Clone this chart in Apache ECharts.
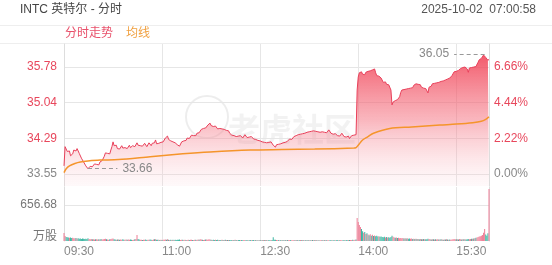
<!DOCTYPE html>
<html><head><meta charset="utf-8">
<script src="https://cdn.jsdelivr.net/npm/echarts@6/dist/echarts.min.js"></script>
<style>html,body{margin:0;padding:0;background:#fff}#c{width:552px;height:265px}</style>
</head><body><div id="c"></div>
<script>
const preClose = 33.55;
const priceLabels = [33.55, 34.29, 35.04, 35.78];
const pctLabels = [0, 2.22, 4.44, 6.66];
const volumeTick = 656.68;
const volumeMax = 985.02;
const priceMin = 33.30, priceMax = 36.26;

// one value per minute, 09:30 .. 16:00
const price = [
33.72,34.12,34.08,34.02,33.98,34.03,33.93,33.89,33.97,34.05,
34.09,34.03,34.08,34.06,33.98,33.95,33.88,33.84,33.80,33.76,
33.72,33.70,33.66,33.68,33.71,33.74,33.70,33.73,33.76,33.72,
33.75,33.77,33.74,33.80,33.78,33.83,33.86,33.92,33.99,33.95,
33.98,34.02,33.97,34.05,34.12,34.22,34.14,34.10,34.15,34.08,
34.12,34.07,34.11,34.14,34.09,34.06,34.10,34.13,34.08,34.12,
34.15,34.10,34.08,34.14,34.18,34.12,34.16,34.20,34.15,34.11,
34.14,34.18,34.13,34.17,34.19,34.15,34.12,34.16,34.20,34.18,
34.14,34.19,34.23,34.20,34.26,34.18,34.15,34.19,34.16,34.21,
34.18,34.22,34.25,34.30,34.28,34.34,34.27,34.30,34.24,34.26,
34.22,34.25,34.20,34.18,34.16,34.14,34.13,34.17,34.22,34.19,
34.24,34.28,34.25,34.30,34.32,34.29,34.33,34.36,34.32,34.35,
34.38,34.35,34.40,34.43,34.41,34.45,34.48,34.46,34.50,34.53,
34.51,34.55,34.57,34.59,34.61,34.56,34.58,34.54,34.51,34.55,
34.52,34.49,34.53,34.50,34.47,34.49,34.45,34.48,34.44,34.46,
34.42,34.45,34.40,34.38,34.36,34.39,34.35,34.37,34.33,34.36,
34.34,34.31,34.35,34.32,34.30,34.34,34.37,34.33,34.31,34.34,
34.32,34.30,34.33,34.31,34.28,34.30,34.27,34.29,34.25,34.27,
34.24,34.26,34.22,34.25,34.21,34.23,34.20,34.24,34.21,34.19,
34.22,34.18,34.15,34.13,34.11,34.16,34.19,34.17,34.21,34.18,
34.22,34.20,34.24,34.21,34.25,34.23,34.26,34.28,34.24,34.27,
34.30,34.33,34.31,34.35,34.33,34.37,34.34,34.38,34.36,34.39,
34.37,34.40,34.38,34.42,34.40,34.43,34.41,34.44,34.42,34.45,
34.42,34.44,34.41,34.43,34.40,34.42,34.45,34.43,34.46,34.42,
34.44,34.41,34.45,34.47,34.43,34.40,34.42,34.38,34.36,34.39,
34.37,34.35,34.38,34.34,34.37,34.40,34.36,34.33,34.36,34.32,
34.30,34.34,34.29,34.32,34.35,34.31,34.36,34.38,34.37,35.30,
35.57,35.66,35.70,35.68,35.63,35.66,35.62,35.67,35.64,35.69,
35.65,35.70,35.67,35.72,35.68,35.74,35.66,35.60,35.57,35.59,
35.56,35.55,35.52,35.46,35.44,35.47,35.42,35.45,35.41,35.40,
35.30,34.99,35.05,35.09,35.08,35.11,35.10,35.12,35.16,35.25,
35.30,35.33,35.31,35.35,35.32,35.36,35.33,35.30,35.34,35.38,
35.35,35.40,35.37,35.43,35.39,35.42,35.38,35.41,35.36,35.39,
35.34,35.37,35.33,35.30,35.24,35.36,35.40,35.38,35.43,35.41,
35.44,35.42,35.45,35.47,35.46,35.49,35.48,35.50,35.49,35.52,
35.51,35.54,35.53,35.56,35.55,35.57,35.60,35.64,35.68,35.70,
35.69,35.72,35.71,35.73,35.75,35.74,35.77,35.75,35.78,35.76,
35.74,35.67,35.76,35.78,35.77,35.79,35.78,35.80,35.79,35.81,
35.88,35.93,35.95,35.96,36.00,36.03,36.05,35.98,35.95,35.92,35.94
];

// average price line: [minute, value]
const avgPoints = [
[0,33.58],[2,33.66],[5,33.72],[10,33.77],[15,33.80],[22,33.82],[33,33.84],[50,33.85],
[79,33.91],[109,33.97],[134,34.01],[171,34.05],[200,34.06],[230,34.07],[266,34.09],
[268,34.10],[270,34.15],[274,34.26],[279,34.33],[284,34.40],[299,34.50],[319,34.53],
[345,34.57],[360,34.59],[375,34.62],[383,34.65],[387,34.69],[390,34.74]
];

// volume per minute (万股)
const volume = [
146,92,75,68,62,58,66,55,60,52,
48,55,44,50,42,46,38,45,40,36,
42,38,48,35,32,38,30,34,28,33,
30,26,32,28,35,27,30,38,42,33,
28,25,30,36,40,45,32,27,24,29,
26,22,28,24,30,21,25,27,23,26,
22,28,25,20,24,30,35,108,38,26,
22,25,20,24,21,26,19,23,22,28,
24,20,26,30,34,25,21,23,19,22,
20,24,22,27,25,30,23,20,22,18,
21,19,23,20,25,22,26,19,21,24,
18,22,20,17,23,19,21,24,18,20,
22,25,19,27,24,30,28,22,20,24,
26,29,24,30,27,22,20,23,18,21,
19,22,17,20,18,21,16,19,22,18,
17,20,18,15,19,16,18,21,17,15,
16,19,14,17,15,18,16,14,17,15,
14,16,13,15,17,14,16,13,15,14,
16,13,15,18,14,16,13,15,17,14,
16,20,68,24,22,18,15,17,14,16,
15,17,14,16,13,18,15,14,16,13,
15,17,14,16,18,15,13,16,14,17,
15,13,16,14,17,15,13,14,16,12,
14,16,13,15,12,14,16,13,15,12,
14,13,15,12,14,16,13,15,14,12,
13,15,14,12,16,13,15,17,14,16,
15,18,16,20,17,22,19,24,26,420,
345,290,255,220,180,150,165,128,140,118,
105,125,98,112,90,102,85,95,80,88,
76,84,72,70,78,66,74,62,68,60,
72,95,78,64,58,62,55,60,52,56,
50,54,46,52,44,48,42,46,40,44,
38,42,36,40,35,38,33,37,34,31,
35,32,30,34,40,36,31,29,33,30,
28,32,27,30,26,29,31,27,25,28,
26,30,27,24,28,25,29,32,36,34,
30,33,29,35,31,28,32,30,34,29,
31,36,33,38,42,40,46,52,58,64,
72,80,88,96,110,150,220,120,95,140,950
];

const FONT = 'Arial, "Liberation Sans", "Noto Sans CJK SC", sans-serif';
const RED = '#e8475c', GREY = '#888', UP = '#ee7d95', DOWN = '#3db6a2';
const fmtTime = m => { const t = 570 + m; const h = Math.floor(t / 60), mm = t % 60; return (h < 10 ? '0' : '') + h + ':' + (mm < 10 ? '0' : '') + mm; };

const priceData = price.map((p, i) => [i, p]);
const volData = volume.map((v, i) => ({
  value: [i, v],
  itemStyle: { color: (i === 0 || price[i] >= price[i - 1]) ? UP : DOWN }
}));
let hiI = 0, loI = 0;
price.forEach((p, i) => { if (p > price[hiI]) hiI = i; if (p < price[loI]) loI = i; });
const pct = v => (v / preClose - 1) * 100;

const chart = echarts.init(document.getElementById('c'), null, { renderer: 'canvas' });
chart.setOption({
  animation: false,
  textStyle: { fontFamily: FONT },
  title: [
    { text: 'INTC 英特尔 - 分时', left: 20, top: 4, padding: 0, textStyle: { fontSize: 12, fontWeight: 'normal', color: '#444', fontFamily: FONT } },
    { text: '2025-10-02  07:00:58', right: 16, top: 4, padding: 0, textStyle: { fontSize: 12, fontWeight: 'normal', color: '#555', fontFamily: FONT } }
  ],
  legend: {
    left: 59, top: 28, padding: 0, itemWidth: 0, itemHeight: 0, itemGap: 7,
    textStyle: { fontSize: 12, fontFamily: FONT },
    data: [
      { name: '分时走势', textStyle: { color: '#e8506a' } },
      { name: '均线', textStyle: { color: '#f0a040' } }
    ]
  },
  graphic: [
    { type: 'line', shape: { x1: 0, y1: 25.5, x2: 552, y2: 25.5 }, style: { stroke: '#eeeeee', lineWidth: 1 }, silent: true },
    { type: 'line', shape: { x1: 0, y1: 43.5, x2: 552, y2: 43.5 }, style: { stroke: '#eeeeee', lineWidth: 1 }, silent: true },
    { type: 'circle', shape: { cx: 207, cy: 117, r: 21 }, style: { fill: 'none', stroke: 'rgba(0,0,0,0.07)', lineWidth: 2 }, silent: true, z: 0 },
    { type: 'text', left: 228, top: 113, style: { text: '老虎社区', font: 'bold 32px "Noto Sans CJK SC"', fill: 'rgba(0,0,0,0.05)' }, silent: true, z: 0 }
  ],
  grid: [
    { left: 64, right: 63, top: 44, height: 142 },
    { left: 64, right: 63, top: 187, height: 54 }
  ],
  xAxis: [
    { type: 'value', gridIndex: 0, min: 0, max: 390, interval: 90,
      axisLine: { show: false }, axisTick: { show: false }, axisLabel: { show: false },
      splitLine: { show: true, lineStyle: { color: '#e6e6e6' } } },
    { type: 'value', gridIndex: 1, min: 0, max: 390, interval: 90,
      axisLine: { show: false }, axisTick: { show: false },
      axisLabel: { show: true, showMaxLabel: false, align: 'left', margin: 5, fontSize: 12, color: GREY, fontFamily: FONT, formatter: v => fmtTime(v) },
      splitLine: { show: true, lineStyle: { color: '#e6e6e6' } } }
  ],
  yAxis: [
    { type: 'value', gridIndex: 0, min: priceMin, max: priceMax, position: 'left',
      axisLine: { show: true, lineStyle: { color: '#dddddd' } },
      axisTick: { show: false, customValues: priceLabels },
      axisLabel: { customValues: priceLabels, fontSize: 12, margin: 7, fontFamily: FONT,
        formatter: v => v.toFixed(2), color: v => (Math.abs(v - preClose) < 0.001 ? GREY : RED) },
      splitLine: { show: true, lineStyle: { color: '#e6e6e6' } } },
    { type: 'value', gridIndex: 0, min: pct(priceMin), max: pct(priceMax), position: 'right',
      axisLine: { show: true, lineStyle: { color: '#dddddd' } },
      axisTick: { show: false, customValues: pctLabels },
      axisLabel: { customValues: pctLabels, fontSize: 12, margin: 5, fontFamily: FONT,
        formatter: v => v.toFixed(2) + '%', color: v => (Math.abs(v) < 0.001 ? GREY : RED) },
      splitLine: { show: false } },
    { type: 'value', gridIndex: 1, min: 0, max: volumeMax, position: 'left',
      axisLine: { show: true, lineStyle: { color: '#dddddd' } },
      axisTick: { show: false, customValues: [volumeTick] },
      axisLabel: { customValues: [70, volumeTick], fontSize: 12, margin: 7, color: '#777', fontFamily: FONT,
        formatter: v => (v < 100 ? '万股' : v.toFixed(2)) },
      splitLine: { show: true, lineStyle: { color: '#e6e6e6' } } },
    { type: 'value', gridIndex: 1, min: 0, max: volumeMax, position: 'right',
      axisLine: { show: true, lineStyle: { color: '#dddddd' } },
      axisTick: { show: false }, axisLabel: { show: false }, splitLine: { show: false } }
  ],
  series: [
    { name: '分时走势', type: 'line', xAxisIndex: 0, yAxisIndex: 0, data: priceData,
      showSymbol: false, symbol: 'none', z: 3,
      lineStyle: { color: '#e8405a', width: 1 },
      itemStyle: { color: '#e8506a' },
      areaStyle: { opacity: 1, color: new echarts.graphic.LinearGradient(0, 0, 0, 1, [
        { offset: 0, color: 'rgba(240,60,80,0.85)' },
        { offset: 0.5, color: 'rgba(244,110,125,0.5)' },
        { offset: 1, color: 'rgba(250,205,212,0.12)' }
      ]) },
      markLine: {
        silent: true, symbol: ['none', 'none'], animation: false,
        lineStyle: { type: [4, 3], color: '#999', width: 1.2 },
        label: { show: true, position: 'end', color: GREY, fontSize: 12, fontFamily: FONT, distance: 5 },
        data: [
          [ { coord: [hiI, price[hiI]] }, { coord: [hiI - 28, price[hiI]], label: { formatter: price[hiI].toFixed(2) } } ],
          [ { coord: [loI, price[loI]] }, { coord: [loI + 27, price[loI]], label: { formatter: price[loI].toFixed(2) } } ]
        ]
      } },
    { name: '均线', type: 'line', xAxisIndex: 0, yAxisIndex: 0, data: avgPoints,
      showSymbol: false, symbol: 'none', smooth: 0.3, z: 4,
      lineStyle: { color: '#f5952b', width: 1.5 }, itemStyle: { color: '#f0a040' } },
    { name: '成交量', type: 'bar', xAxisIndex: 1, yAxisIndex: 2, data: volData, barWidth: 1 }
  ]
});
</script>
</body></html>
